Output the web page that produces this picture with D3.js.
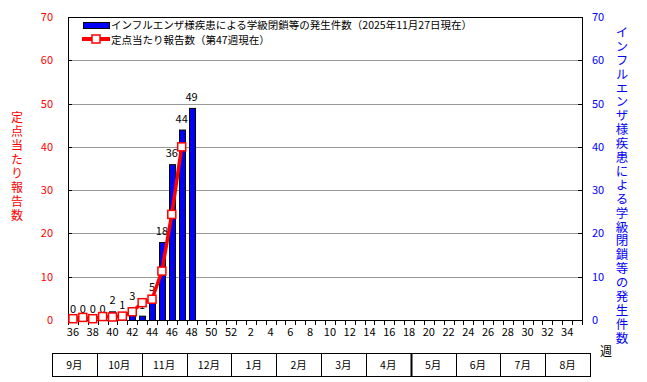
<!DOCTYPE html>
<html>
<head>
<meta charset="utf-8">
<script src="https://cdn.jsdelivr.net/npm/d3@7"></script>
<style>
  body { margin: 0; background: #fff; }
  svg text { font-family: "Noto Sans CJK JP", "DejaVu Sans", sans-serif; }
</style>
</head>
<body>
<div id="chart"></div>
<script>
// weeks 36..52 then 1..35
const weeks = [36,37,38,39,40,41,42,43,44,45,46,47,48,49,50,51,52,
  1,2,3,4,5,6,7,8,9,10,11,12,13,14,15,16,17,18,19,20,21,22,23,24,25,26,27,28,29,30,31,32,33,34,35];
const tickWeeks = [36,38,40,42,44,46,48,50,52,2,4,6,8,10,12,14,16,18,20,22,24,26,28,30,32,34];
const closures = [0,0,0,0,2,1,3,1,5,18,36,44,49];          // weeks 36-48
const perSentinel = [0.3,0.6,0.3,0.8,0.7,0.9,1.9,4.0,4.8,11.3,24.4,40.0]; // weeks 36-47
const yTicks = [0,10,20,30,40,50,60,70];
const months = ["9月","10月","11月","12月","1月","2月","3月","4月","5月","6月","7月","8月"];
const leftTitle = "定点当たり報告数";
const rightTitle = "インフルエンザ様疾患による学級閉鎖等の発生件数";
const legendBar = "インフルエンザ様疾患による学級閉鎖等の発生件数（2025年11月27日現在）";
const legendLine = "定点当たり報告数（第47週現在）";

const W = 647, H = 382;
const plot = { left: 68, right: 582, top: 17, bottom: 320 };

const svg = d3.select("#chart").append("svg")
  .attr("width", W).attr("height", H);

const x = d3.scaleBand().domain(weeks).range([plot.left, plot.right]).padding(0);
const y = d3.scaleLinear().domain([0, 70]).range([plot.bottom, plot.top]);

// gridlines
svg.append("g").selectAll("line")
  .data(yTicks.filter(d => d > 0 && d < 70))
  .enter().append("line")
  .attr("x1", plot.left).attr("x2", plot.right)
  .attr("y1", d => Math.round(y(d)) + 0.5).attr("y2", d => Math.round(y(d)) + 0.5)
  .attr("stroke", "#999").attr("stroke-width", 1);

// frame
svg.append("rect")
  .attr("x", plot.left + 0.5).attr("y", plot.top + 0.5)
  .attr("width", plot.right - plot.left).attr("height", plot.bottom - plot.top)
  .attr("fill", "none").attr("stroke", "#000");

// left axis ticks and labels
svg.append("g").selectAll("line").data(yTicks).enter().append("line")
  .attr("x1", plot.left).attr("x2", plot.left + 4)
  .attr("y1", d => Math.round(y(d)) + 0.5).attr("y2", d => Math.round(y(d)) + 0.5)
  .attr("stroke", "#000");
svg.append("g").selectAll("text").data(yTicks).enter().append("text")
  .attr("x", 53).attr("y", d => y(d) + 4)
  .attr("text-anchor", "end").attr("font-size", 11).attr("fill", "#f00")
  .text(d => d);

// right axis ticks and labels
svg.append("g").selectAll("line").data(yTicks).enter().append("line")
  .attr("x1", plot.right - 4).attr("x2", plot.right)
  .attr("y1", d => Math.round(y(d)) + 0.5).attr("y2", d => Math.round(y(d)) + 0.5)
  .attr("stroke", "#000");
svg.append("g").selectAll("text").data(yTicks).enter().append("text")
  .attr("x", 592).attr("y", d => y(d) + 4)
  .attr("text-anchor", "start").attr("font-size", 11).attr("fill", "#00f")
  .text(d => d);

// x ticks at week boundaries
const bounds = weeks.map(w => x(w)).concat([plot.right]);
svg.append("g").selectAll("line").data(bounds).enter().append("line")
  .attr("x1", d => Math.round(d) + 0.5).attr("x2", d => Math.round(d) + 0.5)
  .attr("y1", plot.bottom).attr("y2", plot.bottom + 5)
  .attr("stroke", "#000");
svg.append("g").selectAll("text").data(tickWeeks).enter().append("text")
  .attr("x", d => x(d) + x.bandwidth() / 2).attr("y", 336)
  .attr("text-anchor", "middle").attr("font-size", 11).attr("fill", "#000")
  .text(d => d);

// bars
const barW = 6;
svg.append("g").selectAll("rect").data(closures).enter().append("rect")
  .attr("x", (d, i) => Math.round(x(weeks[i]) + x.bandwidth() / 2 - barW / 2) + 0.5)
  .attr("y", d => y(d) + 0.5)
  .attr("width", barW)
  .attr("height", d => plot.bottom - y(d))
  .attr("fill", "#00f").attr("stroke", "#000");

svg.append("g").selectAll("text").data(closures).enter().append("text")
  .attr("x", (d, i) => x(weeks[i]) + x.bandwidth() / 2)
  .attr("y", d => y(d) - 7)
  .attr("text-anchor", "middle").attr("font-size", 11).attr("fill", "#000")
  .text(d => d);

// line
const line = d3.line()
  .x((d, i) => x(weeks[i]) + x.bandwidth() / 2)
  .y(d => y(d));
svg.append("path").datum(perSentinel)
  .attr("d", line).attr("fill", "none")
  .attr("stroke", "#f00").attr("stroke-width", 3.5);
svg.append("g").selectAll("rect").data(perSentinel).enter().append("rect")
  .attr("x", (d, i) => x(weeks[i]) + x.bandwidth() / 2 - 4)
  .attr("y", d => y(d) - 4)
  .attr("width", 8).attr("height", 8)
  .attr("fill", "#fff").attr("stroke", "#f00").attr("stroke-width", 1.5);

// legend
const lg = svg.append("g");
lg.append("rect").attr("x", 83.5).attr("y", 22.5).attr("width", 26).attr("height", 6)
  .attr("fill", "#00f").attr("stroke", "#000");
lg.append("text").attr("x", 111).attr("y", 28.5).attr("font-size", 10.5).text(legendBar);
lg.append("line").attr("x1", 82).attr("x2", 110).attr("y1", 39).attr("y2", 39)
  .attr("stroke", "#f00").attr("stroke-width", 4);
lg.append("rect").attr("x", 92).attr("y", 35).attr("width", 8).attr("height", 8)
  .attr("fill", "#fff").attr("stroke", "#f00").attr("stroke-width", 1.5);
lg.append("text").attr("x", 111).attr("y", 44).attr("font-size", 10.5).text(legendLine);

// vertical titles
svg.append("text")
  .attr("x", 17).attr("y", 111)
  .attr("font-size", 12).attr("fill", "#f00")
  .attr("letter-spacing", 2)
  .style("writing-mode", "vertical-rl").style("text-orientation", "upright")
  .text(leftTitle);
svg.append("text")
  .attr("x", 622).attr("y", 26)
  .attr("font-size", 12.5).attr("fill", "#00f")
  .attr("letter-spacing", 1.4)
  .style("writing-mode", "vertical-rl").style("text-orientation", "upright")
  .text(rightTitle);

// month table
const mx = d3.scaleBand().domain(months).range([52, 590]);
const mt = svg.append("g");
mt.append("rect").attr("x", 52.5).attr("y", 353.5).attr("width", 538).attr("height", 23)
  .attr("fill", "none").attr("stroke", "#000");
mt.selectAll("line").data(months.slice(1)).enter().append("line")
  .attr("x1", d => Math.round(mx(d)) + 0.5).attr("x2", d => Math.round(mx(d)) + 0.5)
  .attr("y1", 353.5).attr("y2", 376.5)
  .attr("stroke", "#000").attr("stroke-width", d => d === "5月" ? 2 : 1);
mt.selectAll("text").data(months).enter().append("text")
  .attr("x", d => mx(d) + mx.bandwidth() / 2).attr("y", 369)
  .attr("text-anchor", "middle").attr("font-size", 10.5).attr("fill", "#000")
  .text(d => d);

svg.append("text").attr("x", 606).attr("y", 356)
  .attr("text-anchor", "middle").attr("font-size", 12).text("週");
</script>
</body>
</html>
